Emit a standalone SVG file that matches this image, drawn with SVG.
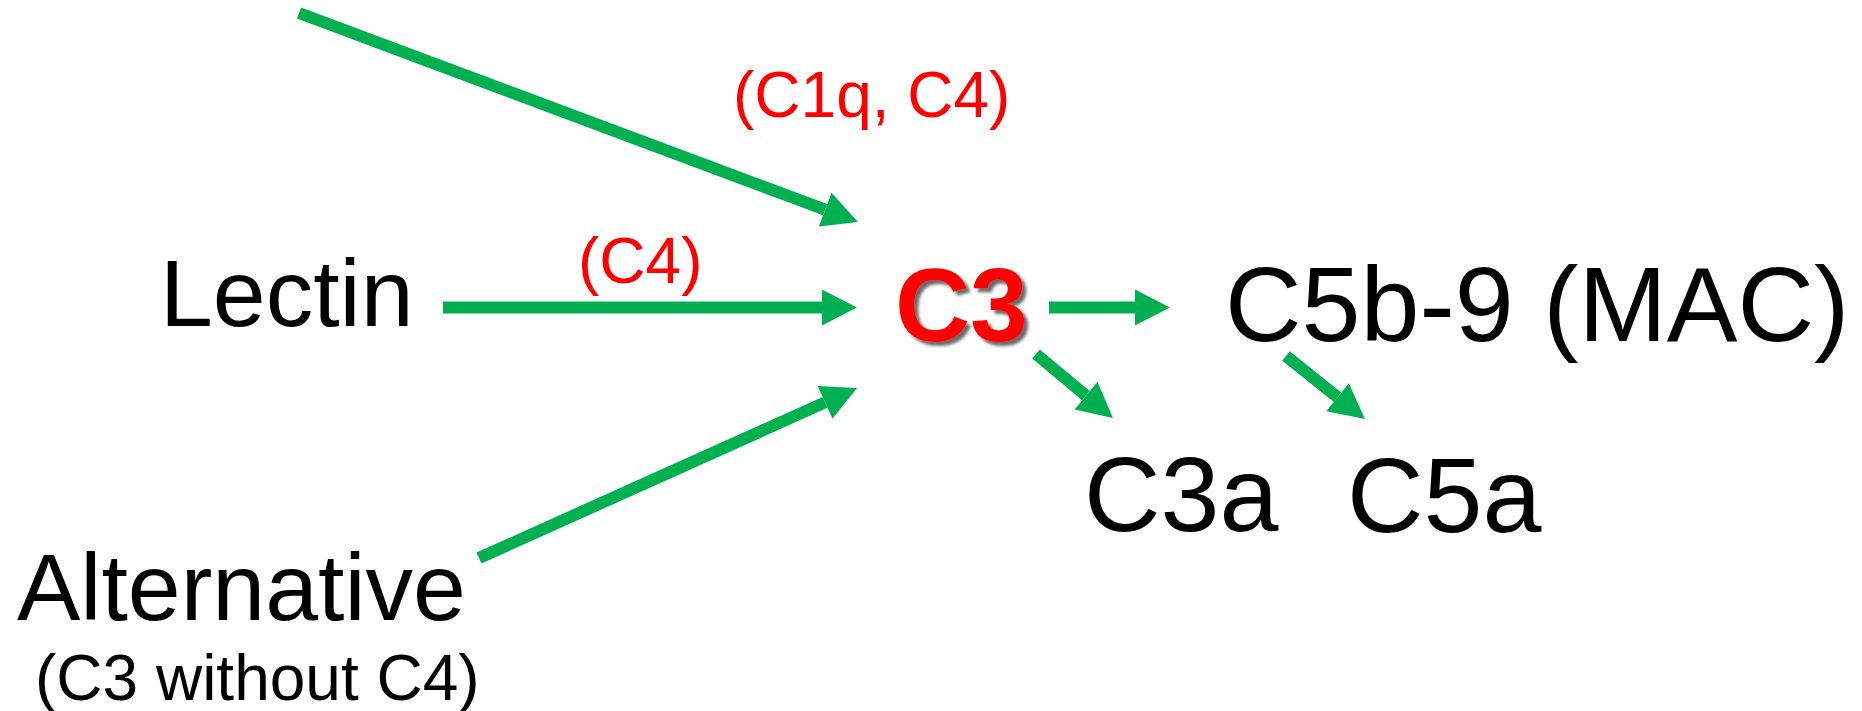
<svg xmlns="http://www.w3.org/2000/svg" width="1862" height="711" viewBox="0 0 1862 711">
  <style>
    .lbl { font-family: "Liberation Sans", Arial, sans-serif; fill: #000000; }
    .big { font-size: 106px; }
    .mid { font-size: 95px; }
    .note { font-size: 64px; }
    .red { fill: #FF0000; }
    .hub { font-family: "Liberation Sans", Arial, sans-serif; font-weight: bold; font-size: 104px; fill: #FF0000; filter: url(#shadow); }
    .conn { stroke: #00B050; stroke-width: 12; fill: none; marker-end: url(#head); }
  </style>
  <defs>
    <marker id="head" markerUnits="userSpaceOnUse" markerWidth="36" markerHeight="36" refX="0" refY="18" orient="auto" overflow="visible">
      <path d="M0,0 L35,18 L0,36 Z" fill="#00B050"/>
    </marker>
    <!-- soft grey drop shadow under the bold C3 -->
    <filter id="shadow" x="-10%" y="-10%" width="130%" height="130%">
      <feGaussianBlur in="SourceAlpha" stdDeviation="1.6" result="b"/>
      <feOffset in="b" dx="4" dy="4" result="o"/>
      <feFlood flood-color="#3a3a3a" flood-opacity="0.75"/>
      <feComposite in2="o" operator="in" result="s"/>
      <feMerge>
        <feMergeNode in="s"/>
        <feMergeNode in="SourceGraphic"/>
      </feMerge>
    </filter>
  </defs>

  <rect width="1862" height="711" fill="#FFFFFF"/>

  <!-- connectors -->
  <g id="connectors">
    <line class="conn" x1="299" y1="13" x2="825.2" y2="209.7"/>
    <line class="conn" x1="443" y1="307.5" x2="822" y2="307.5"/>
    <line class="conn" x1="479" y1="558" x2="825.1" y2="402.4"/>
    <line class="conn" x1="1049" y1="307.5" x2="1135" y2="307.5"/>
    <line class="conn" x1="1036" y1="354" x2="1086" y2="395.6"/>
    <line class="conn" x1="1286" y1="356" x2="1337.6" y2="397.2"/>
  </g>

  <!-- edge labels -->
  <g id="label-classical">
    <text class="lbl note red" x="733" y="117">(C1q, C4)</text>
  </g>
  <g id="label-lectin">
    <text class="lbl note red" x="578" y="283" font-size="62">(C4)</text>
  </g>

  <!-- pathway nodes -->
  <g id="node-lectin">
    <text class="lbl mid" x="160" y="326">Lectin</text>
  </g>
  <g id="node-alternative">
    <text class="lbl mid" x="17" y="620">Alternative</text>
    <text class="lbl note" x="35" y="700" font-size="63">(C3 without C4)</text>
  </g>

  <!-- central C3 -->
  <g id="node-c3">
    <text class="hub" x="895" y="341">C3</text>
  </g>

  <!-- products -->
  <g id="node-mac">
    <text class="lbl big" x="1225" y="341">C5b-9 (MAC)</text>
  </g>
  <g id="node-c3a">
    <text class="lbl big" x="1084" y="531">C3a</text>
  </g>
  <g id="node-c5a">
    <text class="lbl big" x="1347" y="532">C5a</text>
  </g>
</svg>
